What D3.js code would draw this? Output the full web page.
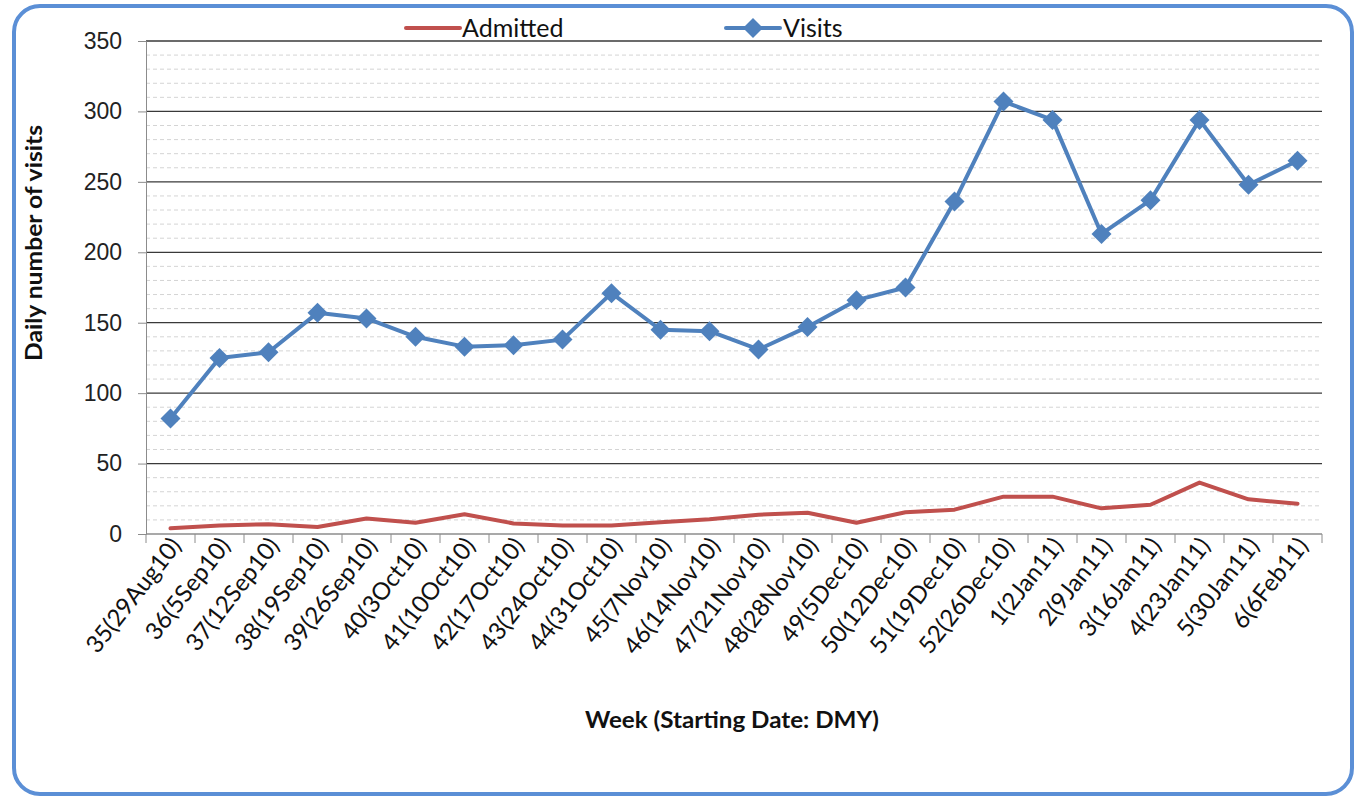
<!DOCTYPE html>
<html>
<head>
<meta charset="utf-8">
<script src="https://cdn.jsdelivr.net/npm/d3@7"></script>
<style>
  body { margin: 0; background: #fff; }
  svg { display: block; font-family: Lato, "Open Sans", sans-serif; }
</style>
</head>
<body>
<div id="chart"></div>
<script>
// Weekly categories (week number and starting date).
const weeks = ["35(29Aug10)", "36(5Sep10)", "37(12Sep10)", "38(19Sep10)", "39(26Sep10)",
    "40(3Oct10)", "41(10Oct10)", "42(17Oct10)", "43(24Oct10)", "44(31Oct10)",
    "45(7Nov10)", "46(14Nov10)", "47(21Nov10)", "48(28Nov10)", "49(5Dec10)",
    "50(12Dec10)", "51(19Dec10)", "52(26Dec10)", "1(2Jan11)", "2(9Jan11)",
    "3(16Jan11)", "4(23Jan11)", "5(30Jan11)", "6(6Feb11)"];

// Daily number of visits per week.
const visits = [82, 125, 129, 157, 153, 140, 133, 134, 138, 171, 145, 144,
    131, 147, 166, 175, 236, 307, 294, 213, 237, 294, 248, 265];

// Daily number admitted per week.
const admitted = [4, 6, 7, 5, 11, 8, 14, 7.5, 6, 6, 8.3, 10.4,
    13.7, 15.1, 8, 15.4, 17.3, 26.5, 26.5, 18.2, 20.8, 36.5, 24.6, 21.5];

const yTicks = [0, 50, 100, 150, 200, 250, 300, 350];

const width = 1355;
const height = 796;
const margin = { top: 41, right: 33, bottom: 262, left: 146 };

const svg = d3.select("#chart")
    .append("svg")
    .attr("width", width)
    .attr("height", height);

// Rounded blue frame.
svg.append("rect")
    .attr("x", 14)
    .attr("y", 6)
    .attr("width", 1338)
    .attr("height", 788)
    .attr("rx", 26)
    .attr("fill", "none")
    .attr("stroke", "#5b8fd6")
    .attr("stroke-width", 4);

const x = d3.scaleBand()
    .domain(weeks)
    .range([margin.left, width - margin.right]);

const y = d3.scaleLinear()
    .domain([0, 350])
    .range([height - margin.bottom, margin.top]);

// Minor dashed gridlines every 10.
svg.append("g")
    .selectAll("line")
    .data(d3.range(10, 350, 10).filter(v => v % 50 !== 0))
    .join("line")
    .attr("x1", margin.left)
    .attr("x2", width - margin.right)
    .attr("y1", d => y(d))
    .attr("y2", d => y(d))
    .attr("stroke", "#d4d4d4")
    .attr("stroke-width", 1)
    .attr("stroke-dasharray", "4,3");

// Major gridlines.
svg.append("g")
    .selectAll("line")
    .data(yTicks.filter(v => v > 0))
    .join("line")
    .attr("x1", margin.left)
    .attr("x2", width - margin.right)
    .attr("y1", d => y(d))
    .attr("y2", d => y(d))
    .attr("stroke", "#3a3a3a")
    .attr("stroke-width", 1.3);

// Y axis.
const yAxis = svg.append("g")
    .attr("transform", `translate(${margin.left},0)`)
    .call(d3.axisLeft(y).tickValues(yTicks).tickSize(8).tickPadding(16));
yAxis.select(".domain").attr("stroke", "#8c8c8c");
yAxis.selectAll(".tick line").attr("stroke", "#8c8c8c");
yAxis.selectAll("text")
    .attr("font-size", 23)
    .attr("fill", "#222");

// X axis with ticks at category boundaries.
const xAxis = svg.append("g")
    .attr("transform", `translate(0,${y(0)})`);
xAxis.append("line")
    .attr("x1", margin.left)
    .attr("x2", width - margin.right)
    .attr("stroke", "#8c8c8c")
    .attr("stroke-width", 1.5);
xAxis.selectAll(".bound")
    .data(weeks.concat([null]))
    .join("line")
    .attr("class", "bound")
    .attr("x1", (d, i) => margin.left + i * x.step())
    .attr("x2", (d, i) => margin.left + i * x.step())
    .attr("y1", 0)
    .attr("y2", 9)
    .attr("stroke", "#8c8c8c");
xAxis.selectAll(".lbl")
    .data(weeks)
    .join("text")
    .attr("class", "lbl")
    .attr("transform", d => `translate(${x(d) + x.bandwidth() / 2 + 12},${12}) rotate(-52)`)
    .attr("text-anchor", "end")
    .attr("font-size", 24)
    .attr("fill", "#111")
    .text(d => d);

// Axis titles.
svg.append("text")
    .attr("transform", `translate(42,243) rotate(-90)`)
    .attr("text-anchor", "middle")
    .attr("font-size", 22)
    .attr("font-weight", "bold")
    .attr("fill", "#111")
    .attr("textLength", 236)
    .attr("lengthAdjust", "spacingAndGlyphs")
    .text("Daily number of visits");

svg.append("text")
    .attr("x", 732)
    .attr("y", 728)
    .attr("text-anchor", "middle")
    .attr("font-size", 23)
    .attr("font-weight", "bold")
    .attr("fill", "#111")
    .attr("textLength", 294)
    .attr("lengthAdjust", "spacingAndGlyphs")
    .text("Week (Starting Date: DMY)");

const cx = (d, i) => x(weeks[i]) + x.bandwidth() / 2;

// Admitted line.
svg.append("path")
    .datum(admitted)
    .attr("fill", "none")
    .attr("stroke", "#c0504d")
    .attr("stroke-width", 4)
    .attr("stroke-linejoin", "round")
    .attr("stroke-linecap", "round")
    .attr("d", d3.line().x(cx).y(d => y(d)));

// Visits line with diamond markers.
svg.append("path")
    .datum(visits)
    .attr("fill", "none")
    .attr("stroke", "#4f81bd")
    .attr("stroke-width", 4)
    .attr("stroke-linejoin", "round")
    .attr("d", d3.line().x(cx).y(d => y(d)));

const marker = d3.symbol().type(d3.symbolSquare).size(200);
svg.append("g")
    .selectAll("path")
    .data(visits)
    .join("path")
    .attr("transform", (d, i) => `translate(${cx(d, i)},${y(d)}) rotate(45)`)
    .attr("d", marker)
    .attr("fill", "#4f81bd");

// Legend.
const legend = svg.append("g").attr("font-size", 25).attr("fill", "#111");
legend.append("line")
    .attr("x1", 406).attr("x2", 460).attr("y1", 28).attr("y2", 28)
    .attr("stroke", "#c0504d").attr("stroke-width", 4).attr("stroke-linecap", "round");
legend.append("text").attr("x", 462).attr("y", 37).text("Admitted");
legend.append("line")
    .attr("x1", 726).attr("x2", 780).attr("y1", 28).attr("y2", 28)
    .attr("stroke", "#4f81bd").attr("stroke-width", 4).attr("stroke-linecap", "round");
legend.append("path")
    .attr("transform", "translate(753,28) rotate(45)")
    .attr("d", marker)
    .attr("fill", "#4f81bd");
legend.append("text").attr("x", 783).attr("y", 37).text("Visits");
</script>
</body>
</html>
